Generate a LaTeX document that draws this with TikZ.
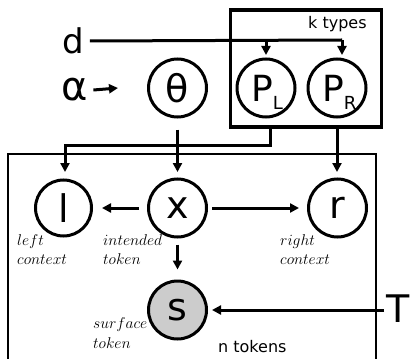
\documentclass[tikz,border=0pt]{standalone}
\usepackage{graphicx}
\usepackage{fontspec}
\setmainfont{DejaVu Sans}
\usetikzlibrary{arrows.meta}
\newcommand{\mylab}[1]{\scalebox{1.3}{$#1$}}
\begin{document}
\begin{tikzpicture}[x=1pt,y=-1pt,
  circ/.style={circle, draw, line width=3pt, minimum size=58pt, inner sep=0pt, font=\fontsize{38}{38}\selectfont},
  obs/.style={circ, fill=black!20},
  big/.style={inner sep=0pt, font=\fontsize{38}{38}\selectfont},
  lab/.style={anchor=base west, inner sep=0pt, font=\fontsize{12}{12}\selectfont},
  sans/.style={anchor=base west, inner sep=0pt, font=\fontsize{16}{16}\selectfont},
  conn/.style={line width=3pt},
  arr/.style={conn, -{Triangle[length=9pt,width=9pt]}},
  plate/.style={draw, inner sep=0pt}
]
\useasboundingbox (0,0) rectangle (411,358);
% plates
\node[plate, line width=3.5pt, minimum width=151pt, minimum height=117pt] (ktypes) at (306,68.5) {};
\node[plate, line width=2.5pt, minimum width=368pt, minimum height=230pt] (ntokens) at (192,269) {};
\node[sans] (ktl) at (308,29) {k types};
\node[sans] (ntl) at (218,352) {n tokens};
% nodes
\node[big, font=\fontsize{34}{34}\selectfont] (d) at (73,41) {d};
\node[big, font=\fontsize{40}{40}\selectfont] (alpha) at (75,90) {α};
\node[big] (T) at (398,309) {T};
\node[circ] (theta) at (177.5,88) {θ};
\node[circ] (PL) at (266,88) {};
\node[circ] (PR) at (337,88) {};
\node[big, anchor=base west, font=\fontsize{36}{36}\selectfont] (PLt) at (251,102) {P\raisebox{-8pt}{\fontsize{18}{18}\selectfont L}};
\node[big, anchor=base west, font=\fontsize{36}{36}\selectfont] (PRt) at (322,102) {P\raisebox{-8pt}{\fontsize{18}{18}\selectfont R}};
\node[circ, minimum size=56pt] (l) at (63.5,208) {l};
\node[circ] (x) at (177.5,208) {x};
\node[circ] (r) at (337.5,208) {r};
\node[obs] (s) at (177.5,310) {s};
% labels
\node[lab] (ll1) at (17,245) {\mylab{left}};
\node[lab] (ll2) at (17,264) {\mylab{context}};
\node[lab] (xl1) at (103,245) {\mylab{intended}};
\node[lab] (xl2) at (103,264) {\mylab{token}};
\node[lab] (rl1) at (280,245) {\mylab{right}};
\node[lab] (rl2) at (280,264) {\mylab{context}};
\node[lab] (sl1) at (93,328) {\mylab{surface}};
\node[lab] (sl2) at (93,348) {\mylab{token}};
% coordinates
\coordinate (dturn) at (342,40);
\coordinate (dPL) at (266,40);
\coordinate (PLout) at (270,127);
\coordinate (PLb) at (270,145);
\coordinate (lb) at (65,145);
\coordinate (PRout) at (337,127);
% connectors
\draw[conn] (d.east) ++(6,0) coordinate (dstart) -- (dturn);
\draw[arr] (dPL) -- (266,55) coordinate (PLin);
\draw[arr] (dturn) -- (342,55) coordinate (PRin);
\draw[arr] (alpha.east) ++(5,0) coordinate (astart) -- (118,88);
\draw[arr, shorten <=11pt] (theta.south) -- (177.5,172) coordinate (xin);
\draw[arr] (PLout) -- (PLb) -- (lb) -- (65,172) coordinate (lin);
\draw[arr] (PRout) -- (337,172) coordinate (rin);
\draw[arr, shorten <=8pt, shorten >=9pt] (x.west) -- (l.east);
\draw[arr, shorten <=4pt, shorten >=8pt] (x.east) -- (r.west);
\draw[arr, shorten <=6pt, shorten >=10pt] (x.south) -- (s.north);
\draw[arr, shorten >=4pt] (T.west) ++(-2,1) coordinate (Tstart) -- (s.east);
\end{tikzpicture}
\end{document}
